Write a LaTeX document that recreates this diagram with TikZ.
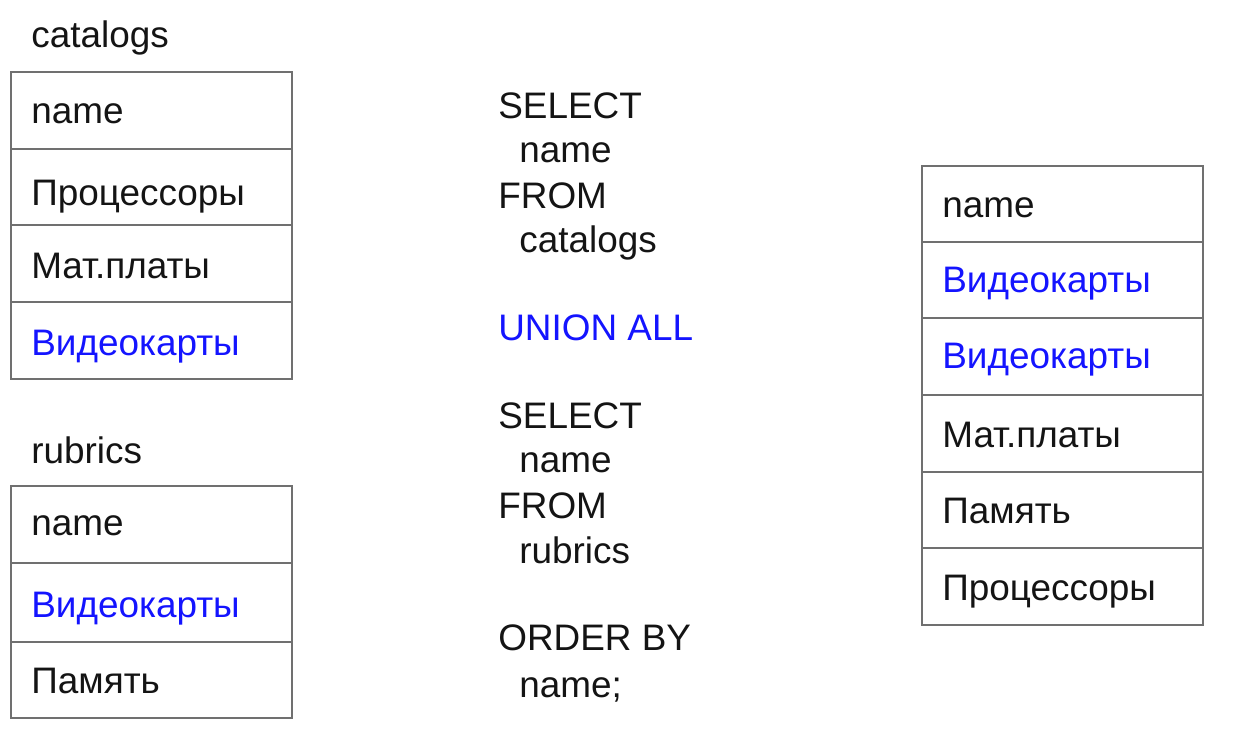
\documentclass[tikz,border=0pt]{standalone}
\usepackage{fontspec}
\setmainfont{Liberation Sans}
\definecolor{gridc}{RGB}{112,112,112}
\definecolor{hl}{RGB}{20,20,255}
\definecolor{txt}{RGB}{20,20,20}
\begin{document}
\begin{tikzpicture}[x=0.02cm,y=-0.02cm,
  t/.style={anchor=base west,inner sep=0pt,font=\fontsize{21}{25}\selectfont,text=txt},
  b/.style={t,text=hl},
  grid/.style={draw=gridc,line width=1.1pt}]
\useasboundingbox (0,0) rectangle (1250,751);
% catalogs table
\node[t] (hcat) at (31,47) {catalogs};
\draw[grid] (11,72) rectangle (292,379);
\draw[grid] (11,149) -- (292,149) (11,225) -- (292,225) (11,302) -- (292,302);
\node[t] (c1) at (31,123) {name};
\node[t] (c2) at (31,205) {Процессоры};
\node[t] (c3) at (31,278) {Мат.платы};
\node[b] (c4) at (31,355) {Видеокарты};
% rubrics table
\node[t] (hrub) at (31,463) {rubrics};
\draw[grid] (11,486) rectangle (292,718);
\draw[grid] (11,563) -- (292,563) (11,642) -- (292,642);
\node[t] (r1) at (31,535) {name};
\node[b] (r2) at (31,617) {Видеокарты};
\node[t] (r3) at (31,693) {Память};
% query
\node[t] (q1) at (498,118) {SELECT};
\node[t] (q2) at (519,162) {name};
\node[t] (q3) at (498,208) {FROM};
\node[t] (q4) at (519,252) {catalogs};
\node[b] (q5) at (498,340) {UNION ALL};
\node[t] (q6) at (498,428) {SELECT};
\node[t] (q7) at (519,472) {name};
\node[t] (q8) at (498,518) {FROM};
\node[t] (q9) at (519,563) {rubrics};
\node[t] (q10) at (498,650) {ORDER BY};
\node[t] (q11) at (519,697) {name;};
% result table
\draw[grid] (922,166) rectangle (1203,625);
\draw[grid] (922,242) -- (1203,242) (922,318) -- (1203,318) (922,395) -- (1203,395)
  (922,472) -- (1203,472) (922,548) -- (1203,548);
\node[t] (s1) at (942,217) {name};
\node[b] (s2) at (942,292) {Видеокарты};
\node[b] (s3) at (942,368) {Видеокарты};
\node[t] (s4) at (942,447) {Мат.платы};
\node[t] (s5) at (942,523) {Память};
\node[t] (s6) at (942,600) {Процессоры};
\end{tikzpicture}
\end{document}
